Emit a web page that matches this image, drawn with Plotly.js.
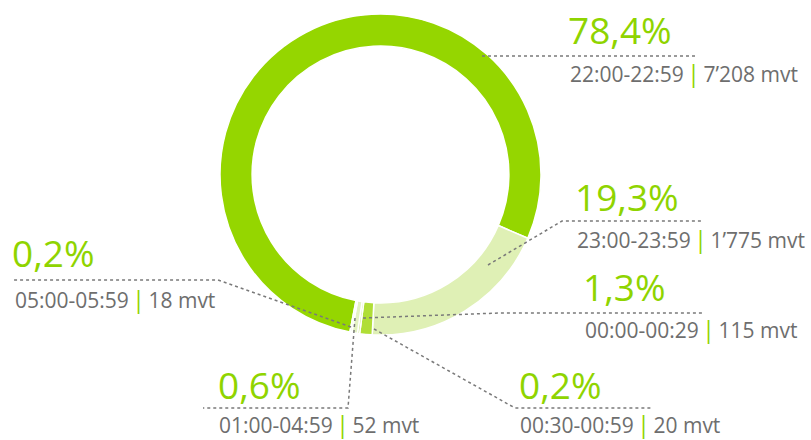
<!DOCTYPE html>
<html><head><meta charset="utf-8">
<script src="https://cdn.plot.ly/plotly-3.0.1.min.js"></script>
<style>html,body{margin:0;padding:0;background:#fff}#chart{width:811px;height:440px}</style>
</head><body><div id="chart"></div>
<script>
// ---- data ----
const slots = ['22:00-22:59','23:00-23:59','00:00-00:29','00:30-00:59','01:00-04:59','05:00-05:59'];
const movements = [7208, 1775, 115, 20, 52, 18];
const percentLabels = ['78,4%','19,3%','1,3%','0,2%','0,6%','0,2%'];
const countLabels = ['7’208','1’775','115','20','52','18'];
const sliceColors = ['#95d600','#dff0b5','#b0de36','#c9e978','#e3f2c2','#eef8da'];

// ---- layout helpers ----
const W = 811, H = 440;
const fx = x => x / W, fy = y => 1 - y / H;
const GREEN = '#8fd400', GREY = '#6e6e6e', DOT = '#7a7a7a';

const labelPos = [
  {pX:566, pY:29, dX:568, dY:73, line:[[482,56],[697,56]]},
  {pX:573, pY:196, dX:575, dY:239, line:[[488,265],[562,221],[703,221]]},
  {pX:581, pY:286, dX:583, dY:329, line:[[363,318],[500,313],[702,313]]},
  {pX:517, pY:384, dX:518, dY:424, line:[[374,329],[515,408],[652,408]]},
  {pX:216, pY:384, dX:217, dY:424, line:[[355,318],[348,408],[203,408]]},
  {pX:10,  pY:253, dX:13,  dY:299, line:[[351,327],[218,280],[13,280]]}
];

const annotations = [];
const shapes = [];
slots.forEach((s, i) => {
  const p = labelPos[i];
  annotations.push({
    xref:'paper', yref:'paper', x:fx(p.pX), y:fy(p.pY), xanchor:'left', yanchor:'middle',
    text: percentLabels[i], showarrow:false,
    font:{family:'Open Sans, sans-serif', size:37, weight:400, color:GREEN}
  });
  annotations.push({
    xref:'paper', yref:'paper', x:fx(p.dX), y:fy(p.dY), xanchor:'left', yanchor:'middle',
    text: s + '\u2009<span style="color:' + GREEN + ';font-size:23px">|</span>\u2009' + countLabels[i] + ' mvt', showarrow:false,
    font:{family:'Open Sans, sans-serif', size:21, color:GREY}
  });
  const path = p.line.map((pt, k) => (k ? 'L' : 'M') + fx(pt[0]).toFixed(5) + ',' + fy(pt[1]).toFixed(5)).join(' ');
  shapes.push({type:'path', xref:'paper', yref:'paper', path:path,
    line:{color:DOT, width:1.5, dash:'dot'}});
});

const trace = {
  type:'pie', labels:slots, values:movements, sort:false, direction:'clockwise', rotation:191,
  hole:0.8, textinfo:'none', hoverinfo:'label+value',
  marker:{colors:sliceColors, line:{color:'#ffffff', width:1.5}},
  domain:{x:[220/W, 541/W], y:[1-335/H, 1-14/H]},
  showlegend:false
};

Plotly.newPlot('chart', [trace], {
  width:W, height:H, margin:{l:0,r:0,t:0,b:0},
  paper_bgcolor:'#ffffff', plot_bgcolor:'#ffffff',
  showlegend:false, annotations:annotations, shapes:shapes
}, {displayModeBar:false, staticPlot:true});
</script></body></html>
